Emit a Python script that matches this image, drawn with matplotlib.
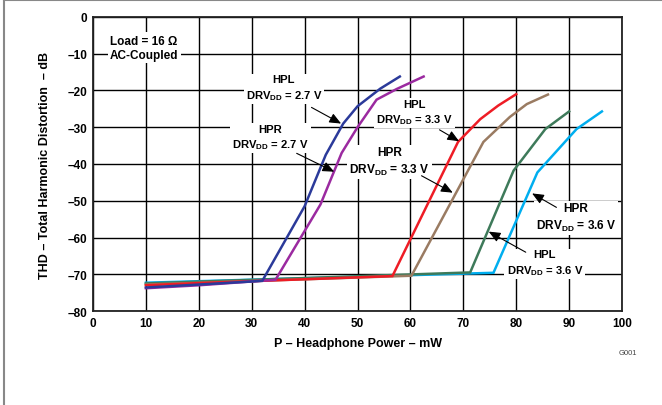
import matplotlib
matplotlib.use("Agg")
import matplotlib.pyplot as plt
from matplotlib.lines import Line2D

# power (mW) / THD (dB)
hpl27_x = [10, 20, 32, 40, 44, 47.3, 50, 54.3, 58]
hpl27_y = [-73.6, -72.8, -71.8, -51.5, -37.5, -29.0, -24.3, -19.5, -16.2]
hpr27_x = [10, 20, 34.5, 43, 47, 50, 53.6, 57.4, 62.5]
hpr27_y = [-73.8, -73.0, -71.5, -51.0, -37.0, -30.0, -22.5, -19.6, -16.2]
hpl33_x = [10, 20, 56.6, 69, 73.2, 76.6, 80]
hpl33_y = [-73.0, -72.4, -70.5, -34.0, -27.8, -24.1, -21.0]
hpr33_x = [10, 60.2, 73.8, 78.8, 82, 86]
hpr33_y = [-72.8, -70.4, -34.0, -27.2, -23.7, -21.1]
hpl36_x = [10, 71.3, 79.5, 85.5, 90]
hpl36_y = [-72.5, -69.5, -41.8, -30.5, -25.7]
hpr36_x = [10, 75.7, 84, 91.4, 96.2]
hpr36_y = [-72.3, -69.6, -42.3, -30.5, -25.7]

xticks = list(range(0, 101, 10))
yticks = list(range(-80, 1, 10))

plt.rcParams["font.family"] = ["Liberation Sans", "DejaVu Sans"]
plt.rcParams["font.weight"] = "bold"
plt.rcParams["mathtext.fontset"] = "custom"
plt.rcParams["mathtext.rm"] = "Liberation Sans:bold"
plt.rcParams["mathtext.bf"] = "Liberation Sans:bold"

fig = plt.figure(figsize=(6.62, 4.06), dpi=100)
ax = fig.add_axes([0.1405, 0.2315, 0.7991, 0.7242])
ax.set_axisbelow(True)

curves = [
    (hpr36_x, hpr36_y, "#00AEEF"),
    (hpl36_x, hpl36_y, "#3E7A5A"),
    (hpr33_x, hpr33_y, "#9A7B62"),
    (hpl33_x, hpl33_y, "#EE1C25"),
    (hpr27_x, hpr27_y, "#9B2AA0"),
    (hpl27_x, hpl27_y, "#2B3A9A"),
]
for xs, ys, c in curves:
    ax.plot(xs, ys, color=c, lw=1.8, zorder=4, solid_joinstyle="miter")

ax.set_xlim(0, 100)
ax.set_ylim(-80, 0)
ax.set_xticks(xticks)
ax.set_yticks(yticks)
ax.set_yticklabels([str(v).replace("-", "\u2013") for v in yticks])
ax.tick_params(length=0, labelsize=8.5, pad=4)
ax.grid(True, color="black", lw=1.0)
for s in ax.spines.values():
    s.set_linewidth(1.3)
    s.set_color("#222222")

ax.set_xlabel("P \u2013 Headphone Power \u2013 mW", fontsize=9, fontweight="bold", labelpad=6)
ax.set_ylabel("THD \u2013 Total Harmonic Distortion  \u2013 dB", fontsize=9, fontweight="bold", labelpad=12)

box = dict(facecolor="white", edgecolor="none", pad=1.5)
ax.text(3.2, -8.4, "Load = 16 \u03a9\nAC-Coupled", fontsize=8.5, ha="left", va="center",
        linespacing=1.3, bbox=box, zorder=3)

labels = [
    ("HPL\nDRV$_{\\mathrm{DD}}$ = 2.7 V", 36.1, -19.3, 8.1, (41.3, -24.6), (46.9, -29.0)),
    ("HPR\nDRV$_{\\mathrm{DD}}$ = 2.7 V", 33.5, -32.7, 8.1, (38.5, -37.1), (45.6, -42.1)),
    ("HPL\nDRV$_{\\mathrm{DD}}$ = 3.3 V", 60.7, -25.9, 8.1, (65.5, -30.7), (69.2, -33.8)),
    ("HPR\nDRV$_{\\mathrm{DD}}$ = 3.3 V", 56.1, -39.2, 8.6, (62.1, -43.2), (68.0, -47.8)),
    ("HPR\nDRV$_{\\mathrm{DD}}$ = 3.6 V", 91.3, -54.6, 8.6, (87.6, -51.8), (83.0, -48.0)),
    ("HPL\nDRV$_{\\mathrm{DD}}$ = 3.6 V", 85.4, -66.9, 8.1, (81.8, -64.0), (74.8, -58.4)),
]
for txt, tx, ty, fs, start, tip in labels:
    ax.text(tx, ty, txt, fontsize=fs, ha="center", va="center", linespacing=1.35,
            bbox=box, zorder=3)
    ax.annotate("", xy=tip, xytext=start,
                arrowprops=dict(arrowstyle="-|>,head_length=0.7,head_width=0.3",
                                color="black", lw=0.8, shrinkA=0, shrinkB=0),
                zorder=5)

fig.text(0.949, 0.13, "G001", fontsize=5.5, fontweight="normal", color="#444444",
         ha="center", va="center")

# grey frame on the left and top edges
fig.add_artist(Line2D([0.006, 0.006], [0, 0.998], color="#888888", lw=1.5))
fig.add_artist(Line2D([0.006, 1.0], [0.997, 0.997], color="#888888", lw=1.5))

fig.savefig("out.png", dpi=100)
